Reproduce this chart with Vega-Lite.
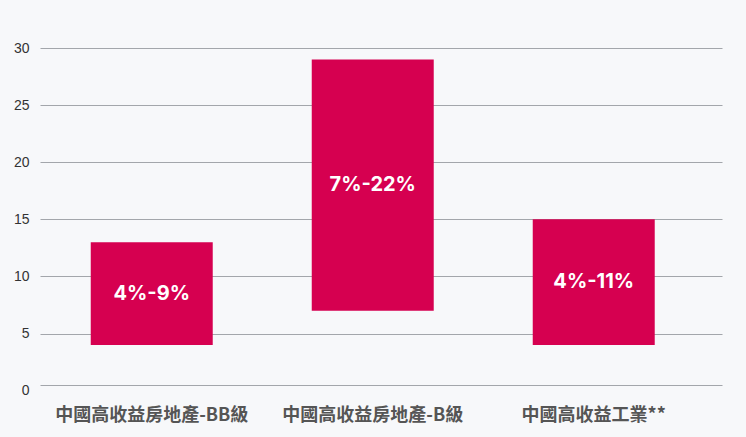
{
  "$schema": "https://vega.github.io/schema/vega-lite/v6.json",
  "width": 682,
  "height": 337,
  "autosize": {"type": "none"},
  "padding": {"left": 40, "top": 48, "right": 24, "bottom": 52},
  "background": "#f7f8fa",
  "data": {
    "values": [
      {"category": "中國高收益房地產-BB級", "low": 4, "high": 13, "label": "4%-9%"},
      {"category": "中國高收益房地產-B級", "low": 7, "high": 29, "label": "7%-22%"},
      {"category": "中國高收益工業**", "low": 4, "high": 15, "label": "4%-11%"}
    ]
  },
  "transform": [{"calculate": "(datum.low + datum.high) / 2", "as": "mid"}],
  "encoding": {
    "x": {
      "field": "category",
      "type": "nominal",
      "sort": null,
      "scale": {"paddingInner": 0.448, "paddingOuter": 0.267, "align": 0.43},
      "axis": {
        "title": null,
        "labelAngle": 0,
        "domain": false,
        "ticks": false,
        "labelLimit": 0,
        "labelPadding": 21,
        "labelFont": "Noto Sans CJK TC",
        "labelFontWeight": "bold",
        "labelFontSize": 18,
        "labelColor": "#555555"
      }
    }
  },
  "layer": [
    {
      "mark": {"type": "bar", "color": "#d60050"},
      "encoding": {
        "y": {
          "field": "low",
          "type": "quantitative",
          "scale": {"domain": [0.5, 30], "nice": false, "zero": false},
          "axis": {
            "title": null,
            "values": [0.5, 5, 10, 15, 20, 25, 30],
            "labelExpr": "datum.value < 1 ? '0' : datum.label",
            "domain": false,
            "ticks": false,
            "labelPadding": 11,
            "labelOffset": {"condition": {"test": "datum.value < 1", "value": 5}, "value": 0},
            "labelFont": "Liberation Sans",
            "labelFontSize": 14,
            "labelColor": "#333333",
            "gridColor": "#a3a6ab",
            "gridWidth": 1
          }
        },
        "y2": {"field": "high"}
      }
    },
    {
      "mark": {
        "type": "text",
        "color": "white",
        "font": "Inter",
        "fontWeight": "bold",
        "fontSize": 20
      },
      "encoding": {
        "y": {"field": "mid", "type": "quantitative"},
        "text": {"field": "label"}
      }
    }
  ],
  "config": {"view": {"stroke": null}}
}
